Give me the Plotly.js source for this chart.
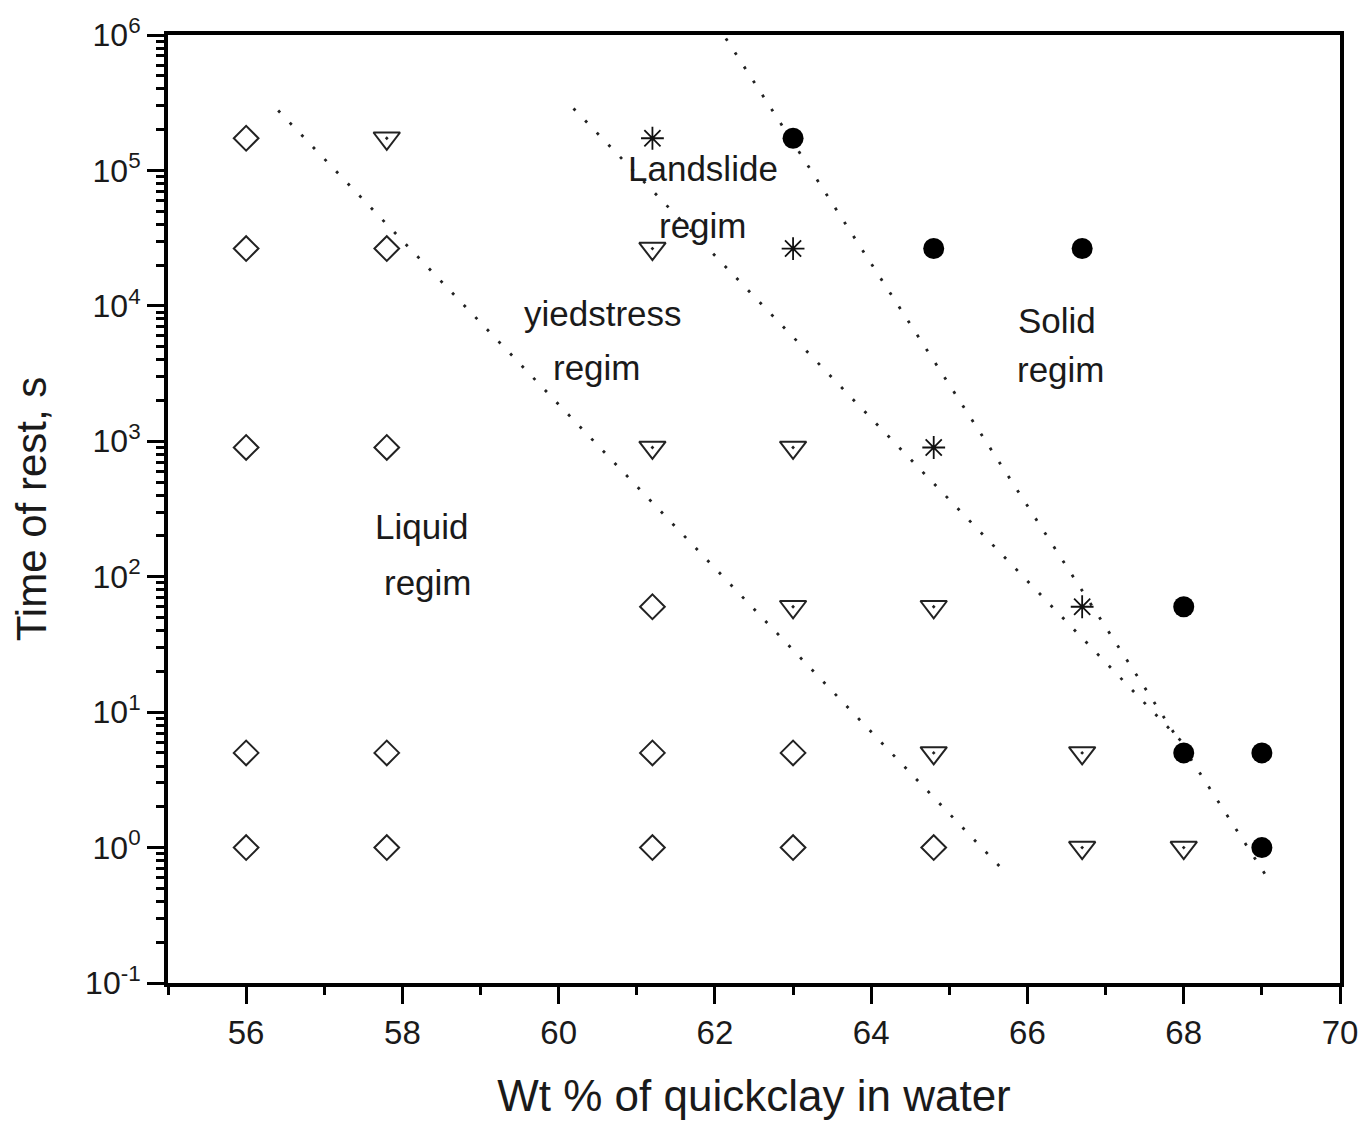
<!DOCTYPE html>
<html>
<head>
<meta charset="utf-8">
<script src="https://cdn.plot.ly/plotly-3.0.1.min.js"></script>
<style>html,body{margin:0;padding:0;background:#fff;}#chart{width:1363px;height:1121px;}</style>
</head>
<body>
<div id="chart"></div>
<script>
// Liquid regime (open diamonds)
const diamondX = [56, 56, 56, 56, 56, 57.8, 57.8, 57.8, 57.8, 61.2, 61.2, 61.2, 63, 63, 64.8];
const diamondY = [172800, 26500, 900, 5, 1, 26500, 900, 5, 1, 60, 5, 1, 5, 1, 1];
// Yield-stress regime (open down triangles)
const triangleX = [57.8, 61.2, 61.2, 63, 63, 64.8, 64.8, 66.7, 66.7, 68];
const triangleY = [172800, 26500, 900, 900, 60, 60, 5, 5, 1, 1];
// Landslide regime (asterisks)
const asteriskX = [61.2, 63, 64.8, 66.7];
const asteriskY = [172800, 26500, 900, 60];
// Solid regime (filled circles)
const circleX = [63, 64.8, 66.7, 68, 68, 69, 69];
const circleY = [172800, 26500, 26500, 60, 5, 5, 1];
// Dotted boundary lines (end points)
const line1X = [56.41, 65.72];
const line1Y = [277000, 0.653];
const line2X = [60.19, 68.06];
const line2Y = [287000, 5.38];
const line3X = [62.14, 69.11];
const line3Y = [944000, 0.552];
// Axis tick labels
const yTickVals = [0.1, 1, 10, 100, 1000, 10000, 100000, 1000000];
const yTickText = ['10<sup>-1</sup>', '10<sup>0</sup>', '10<sup>1</sup>', '10<sup>2</sup>', '10<sup>3</sup>', '10<sup>4</sup>', '10<sup>5</sup>', '10<sup>6</sup>'];
const xTickVals = [56, 58, 60, 62, 64, 66, 68, 70];
const xTickText = ['56', '58', '60', '62', '64', '66', '68', '70'];
// Region labels
const labelText = ['Landslide', 'regim', 'yiedstress', 'regim', 'Solid', 'regim', 'Liquid', 'regim'];
const labelX = [61.85, 61.85, 60.57, 60.49, 66.38, 66.43, 58.24, 58.33];
const labelY = [5.015, 4.594, 3.944, 3.545, 3.892, 3.530, 2.371, 1.957];

const minorVals = [];
for (let k = -1; k < 6; k++) {
  for (let d = 2; d <= 9; d++) minorVals.push(d * Math.pow(10, k));
}

const dotLine = {color: '#222', width: 2.8, dash: '2.8px,14px'};
const traces = [
  {x: line1X, y: line1Y, mode: 'lines', line: dotLine, hoverinfo: 'skip'},
  {x: line2X, y: line2Y, mode: 'lines', line: dotLine, hoverinfo: 'skip'},
  {x: line3X, y: line3Y, mode: 'lines', line: dotLine, hoverinfo: 'skip'},
  {x: diamondX, y: diamondY, mode: 'markers',
   marker: {symbol: 'diamond-open', size: 19, color: '#222', line: {width: 2, color: '#222'}}},
  {x: triangleX, y: triangleY, mode: 'markers',
   marker: {symbol: 'triangle-down-open-dot', size: 23, color: '#222', line: {width: 2, color: '#222'}}},
  {x: asteriskX, y: asteriskY, mode: 'markers',
   marker: {symbol: 'asterisk-open', size: 19, color: '#111', line: {width: 1.8, color: '#111'}}},
  {x: circleX, y: circleY, mode: 'markers',
   marker: {symbol: 'circle', size: 21, color: '#000', line: {width: 0}}}
];

const font = 'Liberation Sans, Arial, sans-serif';
const annotations = labelText.map((t, i) => ({
  x: labelX[i], y: labelY[i], xref: 'x', yref: 'y', text: t, showarrow: false,
  font: {family: font, size: 35, color: '#1a1a1a'}, xanchor: 'center', yanchor: 'middle'
}));

const layout = {
  width: 1363, height: 1121,
  margin: {l: 168, r: 23, t: 35, b: 138},
  paper_bgcolor: '#fff', plot_bgcolor: '#fff',
  showlegend: false,
  font: {family: font, color: '#1a1a1a'},
  xaxis: {
    range: [55, 70], tickmode: 'array', tickvals: xTickVals, ticktext: xTickText,
    ticks: 'outside', ticklen: 17, tickwidth: 3, tickcolor: '#000',
    minor: {tickmode: 'linear', tick0: 55, dtick: 1, ticks: 'outside', ticklen: 8, tickwidth: 3, tickcolor: '#000', showgrid: false},
    showline: true, linewidth: 4, linecolor: '#000', mirror: true,
    showgrid: false, zeroline: false,
    tickfont: {family: font, size: 33, color: '#1a1a1a'},
    title: {text: 'Wt % of quickclay in water', font: {family: font, size: 44, color: '#1a1a1a'}, standoff: 32},
    automargin: false
  },
  yaxis: {
    type: 'log', range: [-1, 6], tickmode: 'array', tickvals: yTickVals, ticktext: yTickText,
    ticks: 'outside', ticklen: 17, tickwidth: 3, tickcolor: '#000',
    minor: {tickmode: 'array', tickvals: minorVals, ticks: 'outside', ticklen: 8, tickwidth: 3, tickcolor: '#000', showgrid: false},
    showline: true, linewidth: 4, linecolor: '#000', mirror: true,
    showgrid: false, zeroline: false,
    tickfont: {family: font, size: 32, color: '#1a1a1a'},
    title: {text: 'Time of rest, s', font: {family: font, size: 42, color: '#1a1a1a'}, standoff: 26},
    automargin: false
  },
  annotations: annotations
};

Plotly.newPlot('chart', traces, layout, {displayModeBar: false, staticPlot: true});
</script>
</body>
</html>
